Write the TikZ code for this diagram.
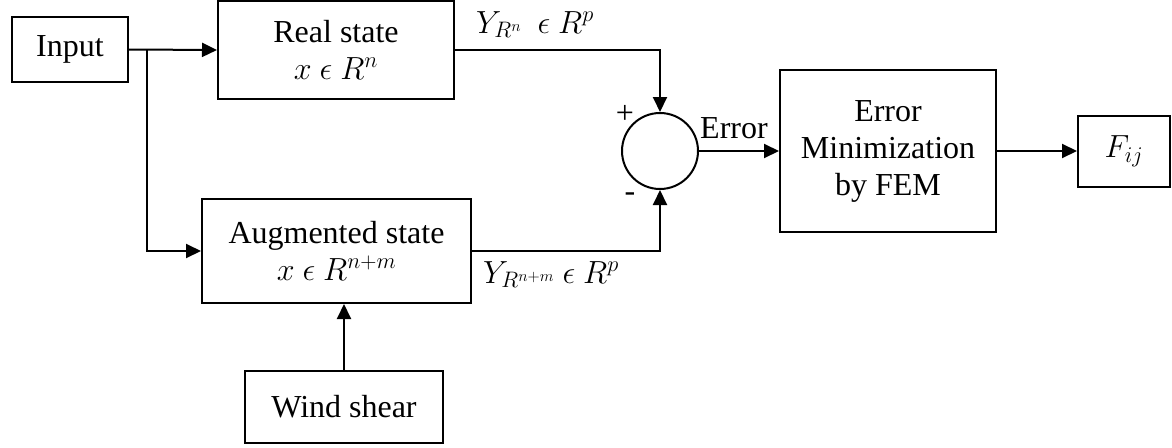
\documentclass[tikz,border=0pt]{standalone}
\usepackage{fix-cm}
\usepackage{fontspec}
\setmainfont{Liberation Serif}
\usetikzlibrary{arrows.meta, positioning}

\begin{document}
\begin{tikzpicture}[
  x=1pt, y=-1pt,
  font=\fontsize{32}{37}\selectfont,
  every node/.style={align=center},
  blockbox/.style={draw, line width=2pt, inner sep=0pt},
  sumnode/.style={draw, circle, line width=2pt, minimum size=76pt, inner sep=0pt},
  siglabel/.style={inner sep=0pt, anchor=base west},
  arr/.style={-{Triangle[length=15pt, width=14pt]}, line width=2pt},
]
\useasboundingbox (0,0) rectangle (1172,447);

%% ─── Blocks ──────────────────────────────────────────────────────────────────

\node[blockbox, minimum width=116pt, minimum height=65pt] (input) at (70, 49.5) {Input};
\node[blockbox, minimum width=236pt, minimum height=98pt] (real)  at (336, 50)
  {Real state\\$x\ \epsilon\ R^{n}$};
\node[blockbox, minimum width=269pt, minimum height=104pt] (aug)  at (336.5, 251)
  {Augmented state\\$x\ \epsilon\ R^{n+m}$};
\node[blockbox, minimum width=198pt, minimum height=72pt] (wind)  at (344, 407) {Wind shear};

\node[sumnode] (sum) at (660, 151) {};

\node[blockbox, minimum width=216pt, minimum height=162pt] (fem) at (888, 151)
  {Error\\Minimization\\by FEM};
\node[blockbox, minimum width=92pt, minimum height=71pt] (fij) at (1124, 151) {$F_{ij}$};

%% ─── Signs and signal labels ─────────────────────────────────────────────────

\node (plus)  at ([xshift=-35pt, yshift=37pt]sum.center) {+};
\node (minus) at ([xshift=-30pt, yshift=-46pt]sum.center) {-};

\node[siglabel] (yreal) at ([xshift=21pt, yshift=17pt]real.east)
  {$Y_{R^{n}}\ \ \epsilon\ R^{p}$};
\node[siglabel] (yaug)  at ([xshift=11pt, yshift=-32pt]aug.east)
  {$Y_{R^{n+m}}\ \epsilon\ R^{p}$};

%% ─── Connectors ──────────────────────────────────────────────────────────────

\coordinate (split) at ([xshift=18pt]input.east);

\draw[arr] (input.east) -- (real.west);
\draw[arr] (split) |- (aug.west);
\draw[arr] (wind.north) -- (wind.north |- aug.south);

\draw[arr] (real.east) -| (sum.north);
\draw[arr] (aug.east) -| (sum.south);

\draw[arr] (sum.east) -- (fem.west);
\node[siglabel] (errlbl) at ([xshift=1pt, yshift=13pt]sum.east) {Error};

\draw[arr] (fem.east) -- (fij.west);

\end{tikzpicture}
\end{document}
